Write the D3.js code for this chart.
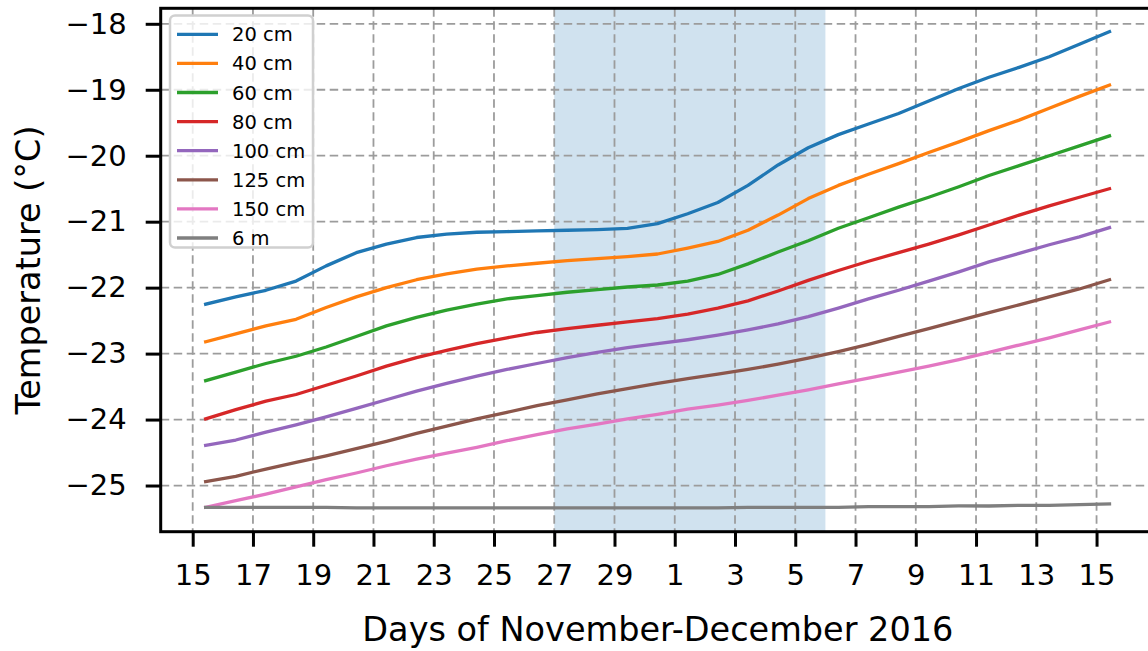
<!DOCTYPE html>
<html>
<head>
<meta charset="utf-8">
<script src="https://cdn.jsdelivr.net/npm/d3@7"></script>
<style>
  html, body { margin: 0; padding: 0; background: #fff; }
  svg { display: block; font-family: "DejaVu Sans", sans-serif; }
</style>
</head>
<body>
<svg id="chart" width="1148" height="651"></svg>
<script>
// Days since 15 November 2016 (sampled once a day, late morning)
const days = d3.range(31).map(d => d + 0.43);

const seriesNames = ["20 cm", "40 cm", "60 cm", "80 cm", "100 cm", "125 cm", "150 cm", "6 m"];
const seriesColors = ["#1f77b4", "#ff7f0e", "#2ca02c", "#d62728", "#9467bd", "#8c564b", "#e377c2", "#7f7f7f"];

const t20cm = [-22.25, -22.14, -22.04, -21.90, -21.67, -21.47, -21.34, -21.24, -21.19, -21.16,
  -21.15, -21.14, -21.13, -21.12, -21.10, -21.03, -20.88, -20.71, -20.45, -20.14,
  -19.88, -19.68, -19.52, -19.36, -19.17, -18.98, -18.81, -18.66, -18.50, -18.31, -18.12];
const t40cm = [-22.82, -22.70, -22.58, -22.48, -22.30, -22.14, -22.00, -21.88, -21.79, -21.72,
  -21.67, -21.63, -21.59, -21.56, -21.53, -21.49, -21.40, -21.30, -21.13, -20.90,
  -20.65, -20.45, -20.28, -20.12, -19.95, -19.79, -19.62, -19.46, -19.28, -19.10, -18.93];
const t60cm = [-23.41, -23.28, -23.15, -23.04, -22.90, -22.74, -22.58, -22.45, -22.34, -22.25,
  -22.17, -22.12, -22.07, -22.03, -21.99, -21.96, -21.90, -21.80, -21.64, -21.46,
  -21.29, -21.10, -20.94, -20.78, -20.63, -20.47, -20.30, -20.15, -20.00, -19.85, -19.70];
const t80cm = [-23.99, -23.85, -23.72, -23.62, -23.48, -23.34, -23.19, -23.06, -22.95, -22.85,
  -22.76, -22.68, -22.62, -22.57, -22.52, -22.47, -22.40, -22.31, -22.20, -22.05,
  -21.89, -21.74, -21.60, -21.47, -21.34, -21.20, -21.05, -20.90, -20.76, -20.63, -20.50];
const t100cm = [-24.39, -24.31, -24.19, -24.08, -23.96, -23.83, -23.70, -23.57, -23.45, -23.34,
  -23.24, -23.15, -23.06, -22.98, -22.91, -22.85, -22.79, -22.72, -22.64, -22.55,
  -22.44, -22.31, -22.17, -22.04, -21.90, -21.76, -21.61, -21.48, -21.35, -21.23, -21.09];
const t125cm = [-24.94, -24.86, -24.75, -24.65, -24.55, -24.44, -24.33, -24.21, -24.10, -23.99,
  -23.89, -23.79, -23.70, -23.61, -23.53, -23.45, -23.38, -23.31, -23.24, -23.16,
  -23.07, -22.97, -22.86, -22.74, -22.62, -22.50, -22.38, -22.26, -22.14, -22.02, -21.88];
const t150cm = [-25.33, -25.23, -25.13, -25.02, -24.91, -24.81, -24.70, -24.60, -24.51, -24.42,
  -24.32, -24.23, -24.14, -24.07, -23.99, -23.92, -23.84, -23.78, -23.71, -23.63,
  -23.55, -23.46, -23.37, -23.28, -23.19, -23.09, -22.98, -22.87, -22.76, -22.64, -22.52];
const t6m = [-25.33, -25.33, -25.33, -25.33, -25.33, -25.34, -25.34, -25.34, -25.34, -25.34,
  -25.34, -25.34, -25.34, -25.34, -25.34, -25.34, -25.34, -25.34, -25.33, -25.33,
  -25.33, -25.33, -25.32, -25.32, -25.32, -25.31, -25.31, -25.30, -25.30, -25.29, -25.28];

const seriesValues = [t20cm, t40cm, t60cm, t80cm, t100cm, t125cm, t150cm, t6m];

// Axis ticks: every second day, Nov 15 .. Dec 15
const xTickDays = [0, 2, 4, 6, 8, 10, 12, 14, 16, 18, 20, 22, 24, 26, 28, 30];
const xTickLabels = ["15", "17", "19", "21", "23", "25", "27", "29", "1", "3", "5", "7", "9", "11", "13", "15"];
const yTicks = [-25, -24, -23, -22, -21, -20, -19, -18];

// Highlighted period: Nov 27 – Dec 6
const spanDays = [12, 21];

const svg = d3.select("#chart");
const plot = { left: 160.7, right: 1155, top: 8.3, bottom: 531.7 };

const x = d3.scaleLinear().domain([-1.062, 31.94]).range([plot.left, plot.right]);
const y = d3.scaleLinear().domain([-25.70, -17.765]).range([plot.bottom, plot.top]);

svg.append("defs").append("clipPath").attr("id", "plotClip")
  .append("rect")
  .attr("x", plot.left).attr("y", plot.top)
  .attr("width", plot.right - plot.left).attr("height", plot.bottom - plot.top);

// shaded period
svg.append("rect")
  .attr("x", x(spanDays[0]))
  .attr("y", plot.top)
  .attr("width", x(spanDays[1]) - x(spanDays[0]))
  .attr("height", plot.bottom - plot.top)
  .attr("fill", "#1f77b4")
  .attr("fill-opacity", 0.21);

// grid
const grid = svg.append("g").attr("stroke", "#9c9c9c").attr("stroke-width", 1.8)
  .attr("stroke-dasharray", "8.5,4.5");
grid.selectAll("line.v").data(xTickDays).join("line").attr("class", "v")
  .attr("x1", d => x(d)).attr("x2", d => x(d))
  .attr("y1", plot.top).attr("y2", plot.bottom);
grid.selectAll("line.h").data(yTicks).join("line").attr("class", "h")
  .attr("x1", plot.left).attr("x2", plot.right)
  .attr("y1", d => y(d)).attr("y2", d => y(d));

// series lines
const line = d3.line().x((d, i) => x(days[i])).y(d => y(d));
svg.append("g").attr("clip-path", "url(#plotClip)")
  .selectAll("path").data(seriesValues).join("path")
  .attr("d", line)
  .attr("fill", "none")
  .attr("stroke", (d, i) => seriesColors[i])
  .attr("stroke-width", 3.3)
  .attr("stroke-linejoin", "round")
  .attr("stroke-linecap", "square");

// axes
const xAxis = d3.axisBottom(x).tickValues(xTickDays)
  .tickFormat((d, i) => xTickLabels[i]).tickSize(15).tickPadding(18);
const gx = svg.append("g").attr("transform", `translate(0,${plot.bottom})`).call(xAxis);
gx.select(".domain").remove();
gx.selectAll(".tick line").attr("stroke", "#000").attr("stroke-width", 3);
gx.selectAll(".tick text").attr("font-size", 29).attr("fill", "#000")
  .attr("font-family", "DejaVu Sans");

const yAxis = d3.axisLeft(y).tickValues(yTicks)
  .tickFormat(d => "\u2212" + Math.abs(d)).tickSize(15).tickPadding(19);
const gy = svg.append("g").attr("transform", `translate(${plot.left},0)`).call(yAxis);
gy.select(".domain").remove();
gy.selectAll(".tick line").attr("stroke", "#000").attr("stroke-width", 3);
gy.selectAll(".tick text").attr("font-size", 29).attr("fill", "#000")
  .attr("font-family", "DejaVu Sans");

// spines
const spines = svg.append("g").attr("stroke", "#000").attr("stroke-width", 3).attr("fill", "none");
spines.append("rect")
  .attr("x", plot.left).attr("y", plot.top)
  .attr("width", plot.right - plot.left).attr("height", plot.bottom - plot.top);

// axis labels
svg.append("text")
  .attr("x", (plot.left + plot.right) / 2).attr("y", 641)
  .attr("text-anchor", "middle").attr("font-size", 33.5).attr("fill", "#000")
  .text("Days of November-December 2016");
svg.append("text")
  .attr("transform", `translate(40,${(plot.top + plot.bottom) / 2}) rotate(-90)`)
  .attr("text-anchor", "middle").attr("font-size", 33.5).attr("fill", "#000")
  .text("Temperature (°C)");

// legend
const legend = svg.append("g");
legend.append("rect")
  .attr("x", 170).attr("y", 15.5).attr("width", 143).attr("height", 232)
  .attr("rx", 5).attr("fill", "#fff").attr("fill-opacity", 0.8)
  .attr("stroke", "#d0d0d0").attr("stroke-width", 2.5);
const rows = legend.selectAll("g.row").data(seriesNames).join("g").attr("class", "row")
  .attr("transform", (d, i) => `translate(0,${34.3 + i * 29.1})`);
rows.append("line")
  .attr("x1", 177).attr("x2", 218).attr("y1", 0).attr("y2", 0)
  .attr("stroke", (d, i) => seriesColors[i]).attr("stroke-width", 3.3);
rows.append("text")
  .attr("x", 232).attr("y", 7)
  .attr("font-size", 19.5).attr("fill", "#000")
  .text(d => d);
</script>
</body>
</html>
